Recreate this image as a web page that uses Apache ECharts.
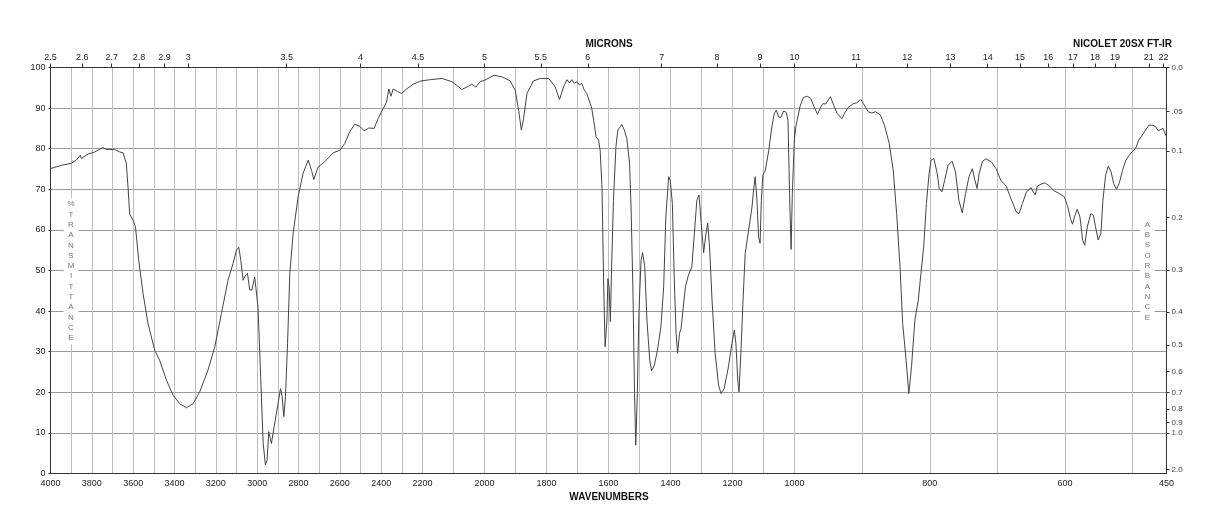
<!DOCTYPE html>
<html><head><meta charset="utf-8">
<script src="https://cdn.jsdelivr.net/npm/echarts@6/dist/echarts.min.js"></script>
<style>html,body{margin:0;padding:0;background:#fff}#c{width:1218px;height:528px}</style>
</head><body><div id="c"></div>
<script>
// ---- data ----
const wavenumbers = [
4000,3948,3899,3875,3856,3851,3818,3786,3746,3730,3689,3665,3649,3633,3625,3617,3601,3589,3573,3552,
3528,3496,3472,3439,3407,3375,3342,3310,3278,3238,3205,3173,3141,3117,3100,3089,3079,3068,3057,3047,
3036,3025,3012,3004,2996,2983,2971,2960,2952,2944,2937,2931,2918,2899,2887,2879,2871,2863,2853,2842,
2826,2802,2778,2753,2737,2726,2705,2673,2632,2600,2576,2552,2528,2503,2482,2460,2434,2415,2390,2374,
2363,2353,2342,2321,2302,2277,2245,2213,2175,2137,2105,2073,2051,2041,2028,2014,1998,1969,1944,1917,
1901,1890,1881,1874,1863,1842,1820,1793,1772,1758,1745,1734,1726,1718,1711,1702,1694,1686,1678,1670,
1659,1654,1648,1640,1632,1627,1621,1616,1611,1605,1602,1598,1594,1590,1584,1576,1570,1562,1557,1549,
1541,1532,1527,1521,1516,1512,1507,1502,1495,1490,1483,1476,1467,1461,1452,1442,1431,1422,1415,1406,
1401,1394,1388,1382,1377,1371,1366,1363,1352,1342,1331,1323,1315,1308,1301,1293,1287,1280,1274,1266,
1256,1245,1237,1227,1213,1202,1194,1189,1183,1179,1173,1166,1159,1148,1137,1132,1127,1121,1116,1111,
1107,1102,1094,1083,1073,1065,1059,1051,1044,1035,1027,1021,1016,1011,1007,1001,998,992,987,981,
976,971,966,961,958,954,947,942,937,930,926,921,913,908,902,898,891,886,880,873,
867,860,854,849,844,840,835,831,827,822,817,813,809,805,801,798,794,789,786,782,
778,773,767,762,757,752,747,742,737,734,730,727,722,717,709,702,695,687,680,672,
668,663,657,650,648,644,641,635,630,623,616,609,601,596,592,589,586,582,578,574,
571,567,562,558,555,551,547,544,540,536,532,528,524,520,515,510,505,501,496,491,
486,481,476,470,466,462,459,455,451,450
];
const transmittance = [
75.1,75.9,76.4,77.2,78.4,77.6,78.7,79.2,80.3,79.8,79.8,79.2,79.0,76.4,70.6,63.9,62.4,60.8,52.5,44.3,
36.9,30.4,27.9,23.0,19.3,17.2,16.2,17.2,20.1,25.5,31.2,39.4,47.6,51.7,55.0,55.7,52.5,47.6,48.8,49.3,
45.2,45.2,48.4,48.0,41.1,23.8,7.4,2.1,3.3,10.3,9.9,7.4,11.5,17.2,20.9,18.9,14.0,18.9,32.0,49.3,
59.1,68.1,73.9,77.2,74.7,72.4,75.5,76.8,79.0,79.6,81.3,84.2,86.0,85.5,84.4,85.1,85.0,87.4,89.9,91.5,
94.7,92.9,94.7,94.1,93.6,94.7,95.9,96.6,97.0,97.3,96.5,94.6,95.4,95.9,95.2,96.5,96.9,98.1,97.7,96.7,
94.4,89.5,84.6,87.4,93.6,96.7,97.3,97.3,95.2,92.1,95.2,97.0,96.2,97.0,96.1,96.5,95.7,96.1,94.4,93.6,
91.1,89.9,87.0,82.9,82.1,79.6,70.6,48.4,31.2,37.8,48.0,46.0,37.4,50.9,67.3,80.5,84.6,85.4,86.0,84.6,
82.5,76.4,64.9,44.3,19.7,7.0,19.7,39.4,52.5,54.4,50.9,37.8,27.9,25.3,26.7,30.4,36.1,46.0,63.2,73.1,
72.3,66.5,48.4,34.5,29.6,34.5,35.7,35.3,46.0,48.9,50.9,59.1,67.3,68.6,61.6,54.4,58.3,61.7,55.8,42.7,
29.6,21.8,19.7,20.9,26.3,32.0,35.3,32.0,23.0,20.1,29.6,42.7,54.2,59.9,65.7,69.8,73.1,67.3,58.3,56.7,
67.3,73.5,74.7,79.6,85.4,88.7,89.5,87.8,87.7,89.3,89.0,87.0,69.0,55.2,69.0,81.3,85.4,90.3,92.6,92.9,
92.4,90.3,88.5,90.3,91.1,91.0,92.8,90.7,88.7,87.4,88.7,90.1,91.1,91.3,92.1,91.1,89.1,88.8,89.1,88.3,
85.8,81.3,74.7,64.0,50.9,36.9,27.9,19.7,26.3,37.8,42.7,49.3,55.8,66.5,73.9,77.2,77.6,73.9,70.2,69.4,
72.2,75.9,76.9,74.3,67.3,64.2,69.0,73.1,75.1,72.7,70.2,73.9,76.9,77.5,76.8,75.1,72.2,70.8,67.7,64.4,
64.0,66.5,69.4,70.4,69.6,68.6,70.8,71.3,71.6,70.8,69.6,69.0,68.1,65.7,62.8,61.4,63.2,65.1,63.2,57.5,
56.2,60.8,64.0,63.6,60.8,57.5,59.1,67.3,73.5,75.7,74.3,71.4,70.0,71.4,74.7,77.2,78.4,79.2,80.0,82.1,
83.3,84.6,85.8,85.8,85.4,84.4,84.7,85.0,83.3,83.0
];

// axis segments (wavenumber ranges, each drawn with equal width)
const segMin = [2200, 1000, 450];
const segMax = [4000, 2200, 1000];
// bottom tick labels
const wnLabels = [
  [4000,3800,3600,3400,3200,3000,2800,2600,2400,2200],
  [2000,1800,1600,1400,1200,1000],
  [800,600,450]
];
// vertical grid lines
const wnGrid = [
  [4000,3900,3800,3700,3600,3500,3400,3300,3200,3100,3000,2900,2800,2700,2600,2500,2400,2300,2200],
  [2200,2100,2000,1900,1800,1700,1600,1500,1400,1300,1200,1100,1000],
  [1000,900,800,700,600,500]
];
// top micron labels
const micronLabels = [
  [2.5,2.6,2.7,2.8,2.9,3,3.5,4,4.5],
  [5,5.5,6,7,8,9,10],
  [11,12,13,14,15,16,17,18,19,21,22]
];
const percentTicks = [0,10,20,30,40,50,60,70,80,90,100];
const absorbanceTicks = [0,0.05,0.1,0.2,0.3,0.4,0.5,0.6,0.7,0.8,0.9,1.0,2.0];

// ---- build ----
const FONT = 'Liberation Sans, Arial, Helvetica, sans-serif';
const L = 50.5, W = 372, TOP = 67.5, H = 406;
const AX = '#333';

function segData(k) {
  const out = [];
  const inR = w => w >= segMin[k] && w <= segMax[k];
  for (let i = 0; i < wavenumbers.length; i++) {
    if (inR(wavenumbers[i]) || (i > 0 && inR(wavenumbers[i-1])) || (i < wavenumbers.length-1 && inR(wavenumbers[i+1]))) {
      out.push([wavenumbers[i], transmittance[i]]);
    }
  }
  return out;
}
const absPos = absorbanceTicks.map(a => 100 * Math.pow(10, -a));
function absLabel(v) {
  const a = -Math.log10(v / 100);
  let best = absorbanceTicks[0];
  absorbanceTicks.forEach(t => { if (Math.abs(t - a) < Math.abs(best - a)) best = t; });
  return best === 0.05 ? '.05' : best.toFixed(1);
}
function micronLabel(v) {
  const m = Math.round(10000 / v * 10) / 10;
  return String(m);
}
function plainLabel(v) { return String(Math.round(v)); }

const grids = [], xAxes = [], yAxes = [], series = [];
for (let k = 0; k < 3; k++) {
  grids.push({ left: L + k * W, top: TOP, width: W, height: H, containLabel: false, outerBoundsMode: 'none' });
  xAxes.push({
    gridIndex: k, type: 'value', min: segMin[k], max: segMax[k], inverse: true, position: 'bottom',
    axisLine: { show: true, onZero: false, lineStyle: { color: AX, width: 1 } },
    axisTick: { show: false, customValues: wnGrid[k] },
    axisLabel: { customValues: wnLabels[k], formatter: plainLabel, fontSize: 9, color: '#222', fontFamily: FONT, margin: 6 },
    splitLine: { show: true, lineStyle: { color: '#bdbdbd', width: 1 } }
  });
}
for (let k = 0; k < 3; k++) {
  const mp = micronLabels[k].map(m => 10000 / m);
  xAxes.push({
    gridIndex: k, type: 'value', min: segMin[k], max: segMax[k], inverse: true, position: 'top',
    axisLine: { show: true, onZero: false, lineStyle: { color: AX, width: 1 } },
    axisTick: { show: true, customValues: mp, length: 4, lineStyle: { color: AX } },
    axisLabel: { customValues: mp, formatter: micronLabel, fontSize: 9, color: '#222', fontFamily: FONT, margin: 5 },
    splitLine: { show: false }
  });
}
yAxes.push({
  gridIndex: 0, type: 'value', min: 0, max: 100, interval: 10, position: 'left',
  axisLine: { show: true, lineStyle: { color: AX } },
  axisTick: { show: true, length: 2, lineStyle: { color: AX } },
  axisLabel: { customValues: percentTicks, fontSize: 9, color: '#222', fontFamily: FONT, margin: 5 },
  splitLine: { show: true, lineStyle: { color: '#999', width: 1 } }
});
for (let k = 1; k < 3; k++) {
  yAxes.push({
    gridIndex: k, type: 'value', min: 0, max: 100, interval: 10, position: 'left',
    axisLine: { show: false }, axisTick: { show: false }, axisLabel: { show: false },
    splitLine: { show: true, lineStyle: { color: '#999', width: 1 } }
  });
}
yAxes.push({
  gridIndex: 2, type: 'value', min: 0, max: 100, position: 'right',
  axisLine: { show: true, lineStyle: { color: AX } },
  axisTick: { show: true, customValues: absPos, length: 3, lineStyle: { color: AX } },
  axisLabel: { customValues: absPos, formatter: absLabel, fontSize: 8, color: '#444', fontFamily: FONT, margin: 5 },
  splitLine: { show: false }
});
for (let k = 0; k < 3; k++) {
  series.push({
    type: 'line', xAxisIndex: k, yAxisIndex: k, data: segData(k),
    showSymbol: false, symbol: 'none', clip: true, silent: true,
    lineStyle: { color: '#444', width: 1 }
  });
}

function vText(str) { return str.split('').join('\n'); }
const graphic = [
  { type: 'text', z: 100, style: { text: 'MICRONS', x: 609, y: 44.5, align: 'center', verticalAlign: 'middle', font: 'bold 10px ' + FONT, fill: '#111' } },
  { type: 'text', z: 100, style: { text: 'NICOLET 20SX FT-IR', x: 1172, y: 44.5, align: 'right', verticalAlign: 'middle', font: 'bold 10px ' + FONT, fill: '#111' } },
  { type: 'text', z: 100, style: { text: 'WAVENUMBERS', x: 609, y: 497, align: 'center', verticalAlign: 'middle', font: 'bold 10px ' + FONT, fill: '#111' } },
  { type: 'text', z: 100, style: { text: vText('%TRANSMITTANCE'), x: 71, y: 198, align: 'center', verticalAlign: 'top', font: '8px ' + FONT, lineHeight: 10.3, fill: '#777', backgroundColor: '#fff', padding: [1, 4] } },
  { type: 'text', z: 100, style: { text: vText('ABSORBANCE'), x: 1147.5, y: 218.5, align: 'center', verticalAlign: 'top', font: '8px ' + FONT, lineHeight: 10.3, fill: '#777', backgroundColor: '#fff', padding: [1, 4] } }
];

const chart = echarts.init(document.getElementById('c'), null, { renderer: 'canvas' });
chart.setOption({
  animation: false,
  backgroundColor: '#fff',
  grid: grids, xAxis: xAxes, yAxis: yAxes, series: series, graphic: graphic
});
</script></body></html>
